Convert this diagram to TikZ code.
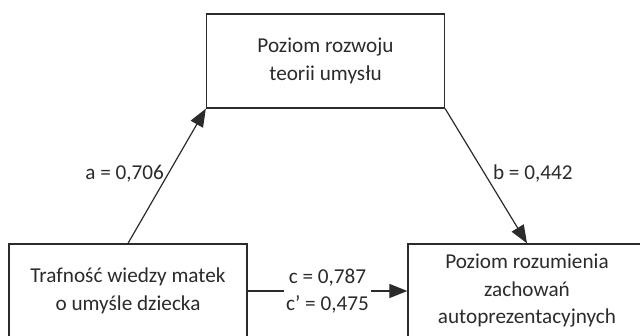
\documentclass[tikz,border=0pt]{standalone}
\usepackage{fontspec}
\setmainfont{Carlito}
\usetikzlibrary{arrows.meta}
\definecolor{ink}{HTML}{2B2B2B}
\begin{document}
\begin{tikzpicture}[x=1pt,y=-1pt,
  box/.style={draw=ink, line width=1.3pt, minimum width=238pt, minimum height=94pt,
    align=center, inner sep=0pt, text=ink, font=\fontsize{21.2}{27.5}\selectfont},
  conn/.style={draw=ink, line width=1.2pt, -{Triangle[length=18pt,width=14pt]}},
  lbl/.style={text=ink, font=\fontsize{21.2}{27.5}\selectfont, inner sep=0pt, align=center}]
\useasboundingbox (0,0) rectangle (640,336);
\clip (0,0) rectangle (640,336);
\node[box] (top) at (325.5,61) {Poziom rozwoju\\teorii umysłu};
\node[box] (left) at (128,291) {Trafność wiedzy matek\\o umyśle dziecka};
\node[box] (right) at (527,291) {Poziom rozumienia\\zachowań\\autoprezentacyjnych};
\draw[conn] (left.north) -- (top.south west) node[lbl, pos=0.52, anchor=east, xshift=-4pt] {a = 0,706};
\draw[conn] (top.south east) -- (right.north) node[lbl, pos=0.48, anchor=west, xshift=8pt] {b = 0,442};
\draw[conn] (left.east) -- (right.west) node[lbl, midway, fill=white, inner sep=2pt] {c = 0,787\\c’ = 0,475};
\end{tikzpicture}
\end{document}
